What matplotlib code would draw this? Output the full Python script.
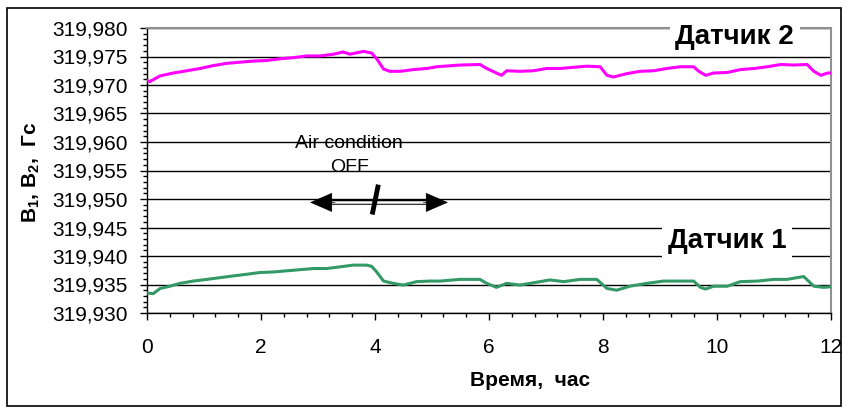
import matplotlib
matplotlib.use("Agg")
import matplotlib.pyplot as plt
from matplotlib.ticker import MultipleLocator, FuncFormatter
from matplotlib.patches import Rectangle

plt.rcParams['font.family'] = ['Liberation Sans', 'DejaVu Sans']
plt.rcParams['mathtext.default'] = 'regular'

# ---- data ----
t2 = [0.00, 0.05, 0.23, 0.46, 0.64, 0.93, 1.16, 1.40, 1.63, 1.87, 2.10, 2.33, 2.57, 2.80,
      3.04, 3.27, 3.44, 3.56, 3.80, 3.94, 4.03, 4.15, 4.26, 4.44, 4.67, 4.91, 5.08, 5.49,
      5.84, 5.96, 6.13, 6.22, 6.31, 6.54, 6.78, 7.01, 7.25, 7.48, 7.71, 7.95, 8.07, 8.18,
      8.42, 8.65, 8.89, 9.12, 9.36, 9.59, 9.68, 9.80, 9.94, 10.18, 10.41, 10.65, 10.88,
      11.12, 11.35, 11.58, 11.70, 11.82, 11.94, 12.00]
b2 = [319.9708, 319.9706, 319.9716, 319.9721, 319.9724, 319.9729, 319.9734, 319.9738,
      319.9740, 319.9742, 319.9743, 319.9746, 319.9748, 319.9751, 319.9751, 319.9754,
      319.9758, 319.9754, 319.9759, 319.9756, 319.9746, 319.9728, 319.9724, 319.9724,
      319.9727, 319.9729, 319.9732, 319.9735, 319.9736, 319.9729, 319.9721, 319.9717,
      319.9725, 319.9724, 319.9725, 319.9729, 319.9729, 319.9731, 319.9733, 319.9732,
      319.9717, 319.9714, 319.9720, 319.9724, 319.9725, 319.9729, 319.9732, 319.9732,
      319.9724, 319.9717, 319.9721, 319.9722, 319.9727, 319.9729, 319.9732, 319.9736,
      319.9735, 319.9736, 319.9724, 319.9717, 319.9721, 319.9721]

t1 = [0.00, 0.11, 0.23, 0.40, 0.58, 0.81, 1.05, 1.28, 1.51, 1.75, 1.98, 2.22, 2.45, 2.68,
      2.92, 3.15, 3.39, 3.62, 3.85, 3.94, 4.03, 4.15, 4.32, 4.50, 4.73, 4.96, 5.14, 5.49,
      5.84, 5.96, 6.13, 6.31, 6.54, 6.78, 7.07, 7.31, 7.60, 7.89, 8.07, 8.24, 8.47, 8.77,
      9.06, 9.36, 9.59, 9.71, 9.80, 9.94, 10.18, 10.41, 10.71, 11.00, 11.23, 11.52, 11.70,
      11.87, 12.00]
b1 = [319.9335, 319.9334, 319.9343, 319.9347, 319.9352, 319.9356, 319.9359, 319.9362,
      319.9365, 319.9368, 319.9371, 319.9372, 319.9374, 319.9376, 319.9378, 319.9378,
      319.9381, 319.9384, 319.9384, 319.9382, 319.9372, 319.9356, 319.9352, 319.9349,
      319.9355, 319.9356, 319.9356, 319.9359, 319.9359, 319.9352, 319.9345, 319.9352,
      319.9349, 319.9353, 319.9358, 319.9355, 319.9359, 319.9359, 319.9343, 319.9340,
      319.9347, 319.9352, 319.9356, 319.9356, 319.9356, 319.9345, 319.9342, 319.9347,
      319.9347, 319.9355, 319.9356, 319.9359, 319.9359, 319.9364, 319.9347, 319.9345,
      319.9346]

x_ticks = [0, 2, 4, 6, 8, 10, 12]
y_min, y_max = 319.930, 319.980

label_s1 = "Датчик 1"
label_s2 = "Датчик 2"
note_text = "Air condition\nOFF"

# ---- figure ----
fig = plt.figure(figsize=(8.48, 4.12), dpi=100)
fig.patches.append(Rectangle((7/848, 1-406/412), (841-7)/848, (406-8)/412,
                             transform=fig.transFigure, fill=False,
                             edgecolor='black', lw=1.2))
ax = fig.add_axes([147/848, 1-313/412, (831-147)/848, (313-28)/412])

ax.plot(t2, b2, color='#FF00FF', lw=2.2, zorder=3)
ax.plot(t1, b1, color='#339966', lw=2.2, zorder=3)

ax.set_xlim(0, 12)
ax.set_ylim(y_min, y_max)
ax.set_xticks(x_ticks)
ax.xaxis.set_minor_locator(MultipleLocator(0.4))
ax.yaxis.set_major_locator(MultipleLocator(0.005))
ax.yaxis.set_minor_locator(MultipleLocator(0.001))
ax.yaxis.set_major_formatter(FuncFormatter(lambda v, p: f"{v:.3f}".replace('.', ',')))
ax.grid(axis='y', which='major', color='black', lw=1.0, zorder=1)

for s in ['top', 'right']:
    ax.spines[s].set_color('#909090')
    ax.spines[s].set_linewidth(1.5)
for s in ['left', 'bottom']:
    ax.spines[s].set_color('black')
    ax.spines[s].set_linewidth(1.0)

ax.tick_params(axis='both', which='major', direction='out', length=5, width=1,
               labelsize=15)
ax.tick_params(axis='both', which='minor', direction='out', length=3, width=1)
ax.tick_params(axis='x', which='major', pad=13)
ax.tick_params(axis='y', which='major', pad=9)

fig.text(530/848, 1-380/412, "Время,  час", ha='center', va='center',
         fontsize=15, fontweight='bold')
fig.text(31/848, 1-172/412, "B$_1$, B$_2$,  Гс", ha='center', va='center',
         rotation=90, fontsize=15, fontweight='bold')

# sensor labels with white box
ax.text(10.31, 319.9785, label_s2, ha='center', va='center', fontsize=20,
        fontweight='bold', zorder=5,
        bbox=dict(facecolor='white', edgecolor='none', pad=4), clip_on=False)
ax.text(10.18, 319.9427, label_s1, ha='center', va='center', fontsize=20,
        fontweight='bold', zorder=5,
        bbox=dict(facecolor='white', edgecolor='none', pad=4))

ax.text(3.55, 319.9576, note_text, ha='center', va='center', fontsize=14,
        linespacing=1.5, zorder=4)

# double arrow
ya = 319.9494
ax.plot([3.15, 5.0], [ya, ya], color='black', lw=4.0, solid_capstyle='butt', zorder=4)
ax.plot([3.15, 5.0], [ya, ya], color='white', lw=1.8, solid_capstyle='butt', zorder=4)
ax.annotate('', xy=(2.86, ya), xytext=(3.3, ya),
            arrowprops=dict(arrowstyle='-|>,head_length=1.5,head_width=0.65',
                            color='black', lw=0.5, mutation_scale=10,
                            shrinkA=0, shrinkB=0), zorder=5)
ax.annotate('', xy=(5.28, ya), xytext=(4.85, ya),
            arrowprops=dict(arrowstyle='-|>,head_length=1.5,head_width=0.65',
                            color='black', lw=0.5, mutation_scale=10,
                            shrinkA=0, shrinkB=0), zorder=5)
ax.plot([4.05, 3.96], [319.9521, 319.9477], color='black', lw=3.5, zorder=6)

fig.savefig("out.png", dpi=100)
